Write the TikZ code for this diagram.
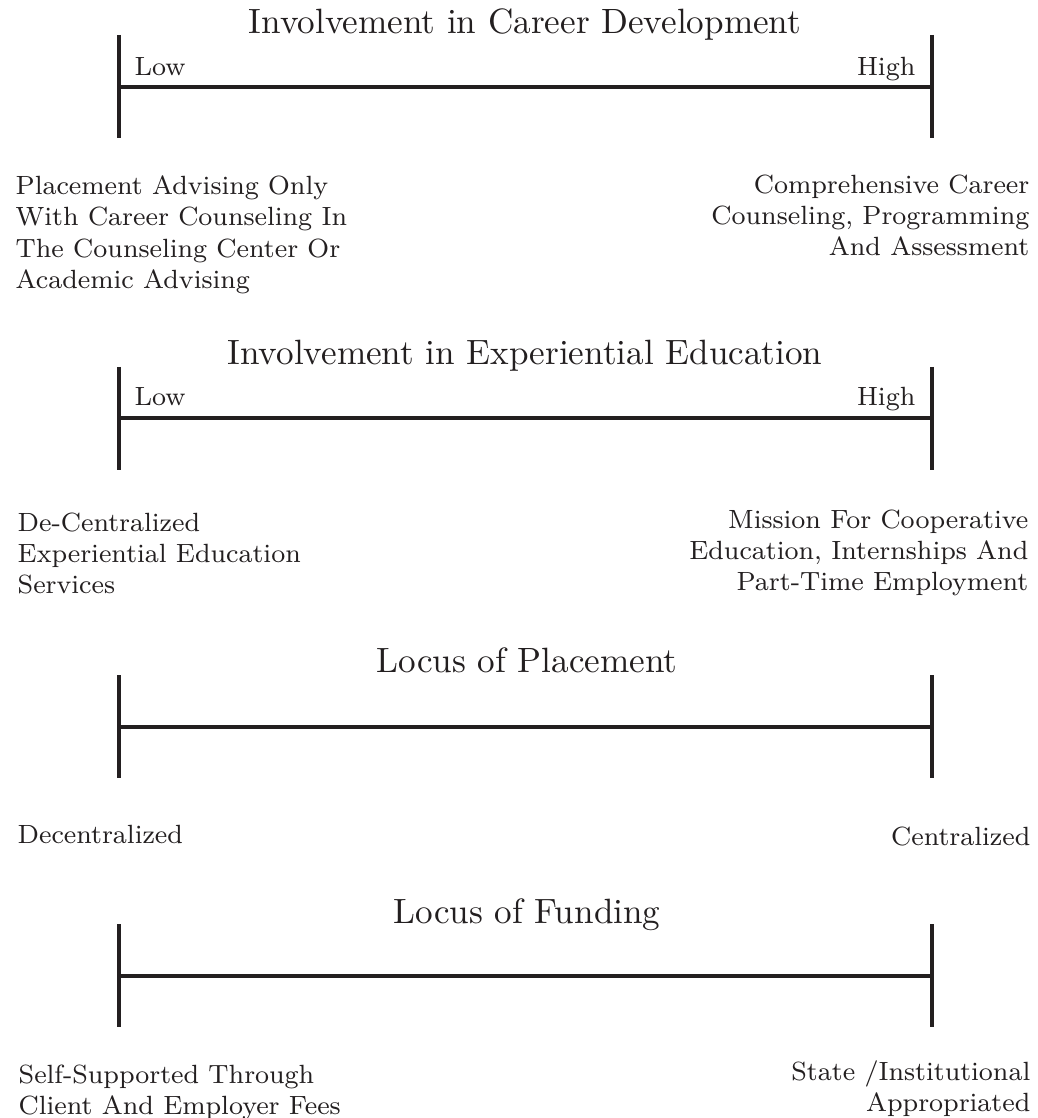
\documentclass[tikz,border=0pt]{standalone}
\usepackage{fontspec}
\usepackage{tikz}
\definecolor{ink}{HTML}{231F20}

\begin{document}
\begin{tikzpicture}
        [every node/.style={inner sep=0,text=ink,font=\fontsize{7.5}{8.9}\selectfont},
         title/.style={font=\fontsize{10}{12}\selectfont},
         bar/.style={line width=0.9pt, draw=ink}]

        \useasboundingbox (0,0) rectangle (10.37,-11.18);

        % career development
        \node[title,anchor=base] (t1) at (5.25,-0.34) {Involvement in Career Development};
        \coordinate (l1t) at (1.19,-0.35);
        \coordinate (l1b) at (1.19,-1.38);
        \coordinate (l1m) at (1.19,-0.87);
        \coordinate (r1t) at (9.32,-0.35);
        \coordinate (r1b) at (9.32,-1.38);
        \coordinate (r1m) at (9.32,-0.87);
        \node[anchor=base west] (low1) at (1.34,-0.76) {Low};
        \node[anchor=base east] (high1) at (9.16,-0.76) {High};
        \node[anchor=north west,align=left] (lt1) at (0.15,-1.75)
          {Placement Advising Only\\With Career Counseling In\\The Counseling Center Or\\Academic Advising};
        \node[anchor=north east,align=right] (rt1) at (10.30,-1.74)
          {Comprehensive Career\\Counseling, Programming\\And Assessment};

        % experiential education
        \node[title,anchor=base] (t2) at (5.25,-3.65) {Involvement in Experiential Education};
        \coordinate (l2t) at (1.19,-3.67);
        \coordinate (l2b) at (1.19,-4.70);
        \coordinate (l2m) at (1.19,-4.18);
        \coordinate (r2t) at (9.32,-3.67);
        \coordinate (r2b) at (9.32,-4.70);
        \coordinate (r2m) at (9.32,-4.18);
        \node[anchor=base west] (low2) at (1.34,-4.06) {Low};
        \node[anchor=base east] (high2) at (9.16,-4.06) {High};
        \node[anchor=north west,align=left] (lt2) at (0.17,-5.12)
          {De-Centralized\\Experiential Education\\Services};
        \node[anchor=north east,align=right] (rt2) at (10.29,-5.09)
          {Mission For Cooperative\\Education, Internships And\\Part-Time Employment};

        % placement
        \node[title,anchor=base] (t3) at (5.27,-6.72) {Locus of Placement};
        \coordinate (l3t) at (1.19,-6.75);
        \coordinate (l3b) at (1.19,-7.78);
        \coordinate (l3m) at (1.19,-7.27);
        \coordinate (r3t) at (9.32,-6.75);
        \coordinate (r3b) at (9.32,-7.78);
        \coordinate (r3m) at (9.32,-7.27);
        \node[anchor=base west] (lt3) at (0.17,-8.43) {Decentralized};
        \node[anchor=base east] (rt3) at (10.31,-8.45) {Centralized};

        % funding
        \node[title,anchor=base] (t4) at (5.27,-9.23) {Locus of Funding};
        \coordinate (l4t) at (1.19,-9.24);
        \coordinate (l4b) at (1.19,-10.27);
        \coordinate (l4m) at (1.19,-9.76);
        \coordinate (r4t) at (9.32,-9.24);
        \coordinate (r4b) at (9.32,-10.27);
        \coordinate (r4m) at (9.32,-9.76);
        \node[anchor=north west,align=left] (lt4) at (0.18,-10.64)
          {Self-Supported Through\\Client And Employer Fees};
        \node[anchor=north east,align=right] (rt4) at (10.31,-10.60)
          {State /Institutional\\Appropriated};

        \draw[bar] (l1t) -- (l1b);
        \draw[bar] (r1t) -- (r1b);
        \draw[bar] (l1m) -- (r1m);
        \draw[bar] (l2t) -- (l2b);
        \draw[bar] (r2t) -- (r2b);
        \draw[bar] (l2m) -- (r2m);
        \draw[bar] (l3t) -- (l3b);
        \draw[bar] (r3t) -- (r3b);
        \draw[bar] (l3m) -- (r3m);
        \draw[bar] (l4t) -- (l4b);
        \draw[bar] (r4t) -- (r4b);
        \draw[bar] (l4m) -- (r4m);

      \end{tikzpicture}
\end{document}
